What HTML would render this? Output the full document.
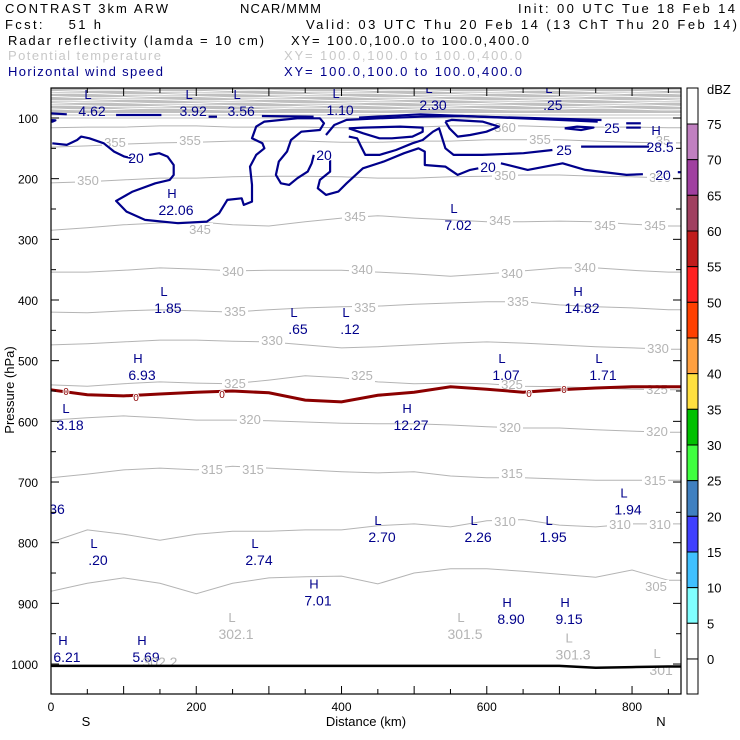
<!DOCTYPE html>
<html><head><meta charset="utf-8"><style>
html,body{margin:0;padding:0;background:#fff}
svg{display:block;font-family:"Liberation Sans",sans-serif}
</style></head><body>
<svg id="chart" width="740" height="740" viewBox="0 0 740 740" xmlns="http://www.w3.org/2000/svg">
<defs><clipPath id="plotclip"><rect x="51" y="88" width="630" height="606"/></clipPath></defs>
<g font-size="13">
<text x="5" y="13" textLength="163">CONTRAST  3km ARW</text>
<text x="240" y="13" textLength="81">NCAR/MMM</text>
<text x="518" y="13" textLength="217">Init: 00 UTC Tue 18 Feb 14</text>
<text x="5" y="29" textLength="96" xml:space="preserve">Fcst:    51 h</text>
<text x="306" y="29" textLength="431">Valid: 03 UTC Thu 20 Feb 14 (13 ChT Thu 20 Feb 14)</text>
<text x="8" y="45" textLength="256">Radar reflectivity (lamda = 10 cm)</text>
<text x="291" y="45" textLength="238">XY= 100.0,100.0 to 100.0,400.0</text>
<text x="8" y="60" textLength="153" fill="#c8c8c8">Potential temperature</text>
<text x="284" y="60" textLength="238" fill="#c8c8c8">XY= 100.0,100.0 to 100.0,400.0</text>
<text x="8" y="76" textLength="155" fill="#00008b">Horizontal wind speed</text>
<text x="284" y="76" textLength="238" fill="#00008b">XY= 100.0,100.0 to 100.0,400.0</text>
</g>
<g id="plot" clip-path="url(#plotclip)"></g>
<g id="axes"></g>
<g id="cbar"></g>
</svg>
<script>
const NS="http://www.w3.org/2000/svg";
const distKm=[0,50,100,150,200,250,300,350,400,450,500,550,600,650,700,750,800,850];
const thetaLevels=[305,310,315,320,325,330,335,340,345,350,355,360];
const theta305=[880,867,858,867,884,867,858,856,855,868,850,843,843,847,852,857,845,862];
const theta310=[799,779,786,796,786,781,781,779,779,772,769,774,764,762,771,774,769,769];
const theta315=[693,687,680,677,680,674,677,680,683,685,683,690,693,693,695,697,697,697];
const theta320=[598,594,591,594,598,598,599,601,603,604,604,606,609,611,611,614,616,618];
const theta325=[540,542,538,535,537,538,532,525,528,535,538,537,538,542,543,545,547,548];
const theta330=[474,472,469,466,466,468,469,474,479,477,474,471,469,471,474,477,479,481];
const theta335=[420,421,418,416,418,420,416,413,411,410,407,405,403,403,408,411,413,416];
const theta340=[354,354,351,347,349,352,351,351,351,354,357,361,357,352,347,347,351,354];
const theta345=[285,281,276,273,271,276,278,271,265,261,265,268,271,271,270,271,275,278];
const theta350=[207,205,202,199,199,197,196,196,197,199,199,197,196,194,194,196,197,199];
const theta355=[148,146,143,141,140,138,138,138,140,140,138,138,136,136,136,138,140,141];
const theta360=[116,115,115,113,113,115,115,115,116,116,115,113,113,113,115,115,115,116];
const thetaSeries=[theta305,theta310,theta315,theta320,theta325,theta330,theta335,theta340,theta345,theta350,theta355,theta360];
const freezingP=[548,556,558,555,552,550,553,565,568,557,552,543,547,552,548,545,543,543];
const surfaceP=[1003,1003,1003,1003,1003,1003,1003,1003,1003,1003,1003,1003,1003,1003,1003,1006,1005,1004];
const windA=[[1.8,141.7],[21.7,144.4],[35.9,136.2],[41.5,130.7],[52.9,133.4],[72.7,141.7],[86.9,155.4],[101,163.6],[112.4,166.4]];
const windA2=[[135,160.9],[149,158.1],[160.6,163.6],[169,177.4],[169,193.8],[163.4,202],[143.6,207.6],[112.4,221.3],[89.7,236.7],[103.9,254.2],[129.4,268],[174.8,273.4],[214.5,270.7],[231.5,257],[242.8,235],[262.6,232.3],[265.5,243.2],[276.8,237.8],[276.8,210.3],[274,180.1],[282.5,160.9],[293.8,149.9],[291,141.7],[276.8,133.4],[282.5,114.2],[293.8,106],[339,100.5],[370.2,100.5],[375.9,108.7],[370.2,119.7],[344.6,122.5],[330.5,136.2],[325,155.4],[313.7,171.9],[309.7,193.8],[316.5,207.6],[327.9,210.3],[339.2,199.3],[353.4,188.3],[359,174.6],[361.9,160.9]];
const windB=[[384.3,169.1],[384.3,188.3],[370.2,202],[367.4,215.8],[378.7,226.8],[395.6,221.3],[407,207.6],[429.5,182.9],[457.9,171.9],[486.2,158.1],[506,149.9],[514.6,155.4],[514.6,177.4],[542.9,180.1],[560,193.8],[577,185.6],[588.3,182.9]];
const windB2=[[619.5,174.6],[656.3,185.6],[704.4,174.6],[735.6,185.6],[792.4,193.8],[815,192.7]];
const windB3=[[863,189.4],[880,189.4]];
const windC=[[378.6,128],[390,111.5],[407,103.2],[452.3,100.5],[508.9,97.8],[565.6,96.7],[622.3,99.4],[679,102.1],[752.7,106]];
const windC2=[[424,99.4],[508.9,93.9],[594,97.8],[758,103.3]];
const windD=[[410,117],[429.9,125.2],[452.3,133.4],[469.3,133.4],[497.6,130.7],[511.8,122.5],[511.8,115.9],[480.6,114.2],[429.9,115.9],[410,117]];
const windE=[[410,130.7],[421.4,133.4],[427,147.2],[432.7,160.9],[452.3,160.9],[475,152.7],[497.6,141.7],[511.8,136.2],[526,122.5],[534.4,117],[537.3,128],[543,149.9],[554.3,160.9],[594,160.9],[650.6,158.1],[690.3,152.7]];
const windE2=[[729.9,147.2],[815,147.2],[823.5,147.2]];
const windF=[[543,106],[551.5,103.2],[594,106],[616.6,114.2],[599.6,122.5],[577,128],[560,130.7],[548.6,117],[543,106]];
const windG=[[707.3,117],[724.3,114.2],[746.9,115.9],[729.9,119.7],[707.3,117]];
const windSegs=[[[-1,92.3],[21.7,93.9]],[[89.7,95],[152,95]],[[217,97.8],[228.5,97.8]],[[290.4,96.7],[361.6,97.8]],[[792,108.7],[812,108.7]],[[792,115.9],[812,115.9]],[[-1,103.3],[6,104],[2,106],[-1,106]]];
const windContours=[windA,windA2,windB,windB2,windB3,windC,windC2,windD,windE,windE2,windF,windG].concat(windSegs);
const windLabelText=["20","20","25","25","20","20"];
const windLabelPos=[[136,163],[324,160],[612,133],[564,155],[488,172],[663,180]];
const extType=["L","L","L","L","L","L","H","H","L","L","H","L","L","H","L","L","L","H","L","L","L","L","L","L","H","H","H","H","H"];
const extValue=["4.62","3.92","3.56","1.10","2.30",".25","28.5","22.06","7.02","1.85","14.82",".65",".12","6.93","1.07","1.71","3.18","12.27","1.94","2.70","2.26","1.95",".20","2.74","7.01","8.90","9.15","6.21","5.69"];
const extKm=[56.5,195.7,261.8,398,526,691,838.6,172.1,560.4,161,731.2,340,411.6,125.3,626.5,760,26.2,495.7,794.5,455.8,588,691.3,64.7,286.4,367.6,633.4,713.3,22,130.8];
const extP=[86.8,86.8,86.8,85.2,76.9,76.9,146.1,250.1,275,411.5,411.5,446,446,522,522,522,604,604,744,789,789,789,827,827,894,924,924,987,987];
const grayExtType=["L","L","L","L",""];
const grayExtValue=["302.1","301.5","301.3","301","302.2"];
const grayExtKm=[254.7,570,718.8,840,150];
const grayExtP=[949,949,983,1008,995];
const pTicks=[100,200,300,400,500,600,700,800,900,1000];
const xTicks=[0,200,400,600,800];
const dbzLevels=[75,70,65,60,55,50,45,40,35,30,25,20,15,10,5,0];
const dbzColors=["#c080c0","#a040a0","#a04060","#c01c1c","#ff2020","#ff4000","#ffa040","#ffe040","#00c000","#40ff40","#4080c0","#4040ff","#40c0ff","#80ffff","#ffffff"];

const X0=51,X1=681,Y0=88,Y1=694;
const xs=km=>51+km*0.7263;
const ys=p=>118+(p-100)*0.6067;
const plotG=document.getElementById('plot'),axesG=document.getElementById('axes'),cbarG=document.getElementById('cbar');
function mk(tag,attrs,parent,txt){const e=document.createElementNS(NS,tag);for(const k in attrs)e.setAttribute(k,attrs[k]);if(txt!==undefined)e.textContent=txt;parent.appendChild(e);return e;}
function seriesPath(arr){let d="";arr.forEach((p,i)=>{d+=(i?"L":"M")+xs(distKm[i]).toFixed(1)+","+ys(p).toFixed(1);});d+="L"+xs(880).toFixed(1)+","+ys(arr[arr.length-1]).toFixed(1);return d;}
function pairPath(arr){return arr.map((q,i)=>(i?"L":"M")+xs(q[0]).toFixed(1)+","+ys(q[1]).toFixed(1)).join("");}

const band=mk('rect',{x:X0,y:Y0,width:630,height:25,fill:"#c0c0c0"},plotG);


const bandOffsets=[91,94,97,100,103,106,109];
bandOffsets.forEach((yy,i)=>{let d="";for(let x=X0;x<=X1+10;x+=10){d+=(x===X0?"M":"L")+x+","+(yy+Math.sin(x/23+i*1.7)*0.9).toFixed(1);}
const l=mk('path',{d:d,fill:"none",stroke:"#fff","stroke-width":1},plotG);

});
[115,118].forEach(yy=>{const l=mk('line',{x1:X0,x2:X1,y1:yy,y2:yy,stroke:"#c0c0c0","stroke-width":1},plotG);

});

thetaSeries.forEach((arr,i)=>{const p=mk('path',{d:seriesPath(arr),fill:"none",stroke:"#b4b4b4","stroke-width":1},plotG);

});

const thLabs=[["355",115,147],["355",190,145],["355",540,144],["35",663,145],["360",505,132],["350",88,185],["350",505,180],["350",660,182],["345",200,234],["345",355,221],["345",500,225],["345",605,230],["345",655,230],["340",233,276],["340",362,274],["340",512,278],["340",585,272],["335",235,316],["335",365,312],["335",518,306],["330",272,345],["330",658,353],["325",235,388],["325",362,380],["325",512,389],["325",657,394],["320",250,424],["320",510,432],["320",657,436],["315",212,474],["315",253,474],["315",512,478],["315",655,485],["310",505,526],["310",620,529],["310",660,529],["305",656,591]];
thLabs.forEach(t=>{const bg=mk('rect',{x:t[1]-13,y:t[2]-11,width:26,height:13,fill:"#fff"},plotG);


const e=mk('text',{x:t[1],y:t[2],"font-size":13,fill:"#b4b4b4","text-anchor":"middle"},plotG,t[0]);

});

const fz=mk('path',{d:seriesPath(freezingP),fill:"none",stroke:"#8b0000","stroke-width":3},plotG);


[[66,391],[136,397],[222,394],[529,393],[564,389]].forEach(q=>{
const t=mk('text',{x:q[0],y:q[1]+4,"font-size":10,fill:"#8b0000","text-anchor":"middle",stroke:"#fff","stroke-width":2,"paint-order":"stroke"},plotG,"0");

});

windContours.forEach((c,i)=>{const p=mk('path',{d:pairPath(c),fill:"none",stroke:"#00008b","stroke-width":2.2,"stroke-linejoin":"round"},plotG);

});
windLabelText.forEach((t,i)=>{const e=mk('text',{x:windLabelPos[i][0],y:windLabelPos[i][1],"font-size":14,fill:"#00008b","text-anchor":"middle",stroke:"#fff","stroke-width":2,"paint-order":"stroke"},plotG,t);

});

extType.forEach((t,i)=>{const x=xs(extKm[i]),y=ys(extP[i]);
const a=mk('text',{x:x-4,y:y-11,"font-size":13,fill:"#00008b","text-anchor":"middle"},plotG,t);


const b=mk('text',{x:x,y:y+6,"font-size":14,fill:"#00008b","text-anchor":"middle"},plotG,extValue[i]);

});
const p36=mk('text',{x:57,y:514,"font-size":14,fill:"#00008b","text-anchor":"middle"},plotG,"36");


grayExtType.forEach((t,i)=>{const x=xs(grayExtKm[i]),y=ys(grayExtP[i]);
if(t){const a=mk('text',{x:x-4,y:y-11,"font-size":13,fill:"#b4b4b4","text-anchor":"middle"},plotG,t);

}
const b=mk('text',{x:x,y:y+6,"font-size":14,fill:"#b4b4b4","text-anchor":"middle"},plotG,grayExtValue[i]);

});

const sf=mk('path',{d:seriesPath(surfaceP),fill:"none",stroke:"#000","stroke-width":2.5},plotG);



const fr=mk('rect',{x:X0,y:Y0,width:X1-X0,height:Y1-Y0,fill:"none",stroke:"#000","stroke-width":1.2},axesG);


for(let km=50;km<=850;km+=50){const x=xs(km),L=(km%100===0)?8:5;
const t1=mk('line',{x1:x,x2:x,y1:Y0,y2:Y0+L,stroke:"#000"},axesG);


const t2=mk('line',{x1:x,x2:x,y1:Y1,y2:Y1-L,stroke:"#000"},axesG);

}
for(let p=100;p<=1000;p+=50){const y=ys(p),L=(p%100===0)?8:5;
const t1=mk('line',{x1:X0,x2:X0+L,y1:y,y2:y,stroke:"#000"},axesG);


const t2=mk('line',{x1:X1,x2:X1-L,y1:y,y2:y,stroke:"#000"},axesG);

}
pTicks.forEach(p=>{const e=mk('text',{x:38,y:ys(p)+5,"font-size":12,"text-anchor":"end"},axesG,String(p));

});
xTicks.forEach(k=>{const e=mk('text',{x:xs(k),y:711,"font-size":12,"text-anchor":"middle"},axesG,String(k));

});
const xt=mk('text',{x:366,y:726,"font-size":13,"text-anchor":"middle"},axesG,"Distance (km)");


const sl=mk('text',{x:86,y:726,"font-size":13,"text-anchor":"middle"},axesG,"S");


const nl=mk('text',{x:661,y:726,"font-size":13,"text-anchor":"middle"},axesG,"N");


const yt=mk('text',{x:0,y:0,"font-size":13,"text-anchor":"middle",transform:"translate(14,390) rotate(-90)"},axesG,"Pressure (hPa)");



const cb=v=>124+(75-v)*7.133;
const cbTop=mk('rect',{x:687,y:88,width:11,height:cb(75)-88,fill:"#fff",stroke:"#000"},cbarG);


dbzColors.forEach((c,i)=>{const r=mk('rect',{x:687,y:cb(dbzLevels[i]),width:11,height:cb(dbzLevels[i+1])-cb(dbzLevels[i]),fill:c,stroke:"#000"},cbarG);

});
const cbBot=mk('rect',{x:687,y:cb(0),width:11,height:694-cb(0),fill:"#fff",stroke:"#000"},cbarG);


dbzLevels.forEach(v=>{const e=mk('text',{x:707,y:cb(v)+5,"font-size":13},cbarG,String(v));

});
const du=mk('text',{x:707,y:94,"font-size":13},cbarG,"dBZ");


</script>
</body></html>
